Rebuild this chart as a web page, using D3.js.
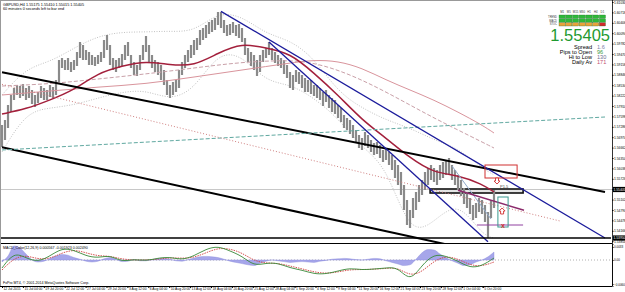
<!DOCTYPE html>
<html>
<head>
<meta charset="utf-8">
<script src="https://cdn.jsdelivr.net/npm/d3@7"></script>
<style>
body { margin: 0; background: #fff; }
svg { display: block; font-family: "Liberation Sans", Arial, sans-serif; }
</style>
</head>
<body>
<svg id="chart" width="625" height="292"></svg>
<script>
// ---- price bars (H4, sampled every bar slot) ----
const barHigh = [1.5734,1.5749,1.5794,1.5824,1.5845,1.5854,1.5851,1.5857,1.5845,1.5851,1.5839,1.5824,1.5833,1.5851,1.5845,1.5839,1.5854,1.5848,1.5869,1.5929,
  1.5935,1.5929,1.5935,1.5923,1.5929,1.5953,1.5983,1.5974,1.5959,1.5953,1.5944,1.5938,1.5944,1.5953,1.5989,1.6004,1.5974,1.5935,1.5929,1.5935,
  1.5947,1.5974,1.5983,1.5944,1.5923,1.5914,1.5944,1.5974,1.6001,1.5974,1.5944,1.5929,1.5923,1.5914,1.5899,1.5869,1.5854,1.5863,1.5869,1.5899,
  1.5923,1.5944,1.5959,1.5974,1.5989,1.5995,1.6019,1.6025,1.6034,1.6043,1.6049,1.6055,1.6073,1.6073,1.6049,1.6034,1.6037,1.6043,1.6034,1.6037,
  1.6025,1.5995,1.5965,1.5953,1.5944,1.5929,1.5944,1.5959,1.5965,1.5983,1.5965,1.5953,1.5944,1.5935,1.5929,1.5914,1.5893,1.5884,1.5899,1.5893,
  1.5884,1.5875,1.5869,1.5869,1.5854,1.5854,1.5845,1.5833,1.5839,1.5824,1.5815,1.5809,1.5794,1.5785,1.5764,1.5755,1.5749,1.5734,1.5719,1.5704,
  1.5695,1.5713,1.5704,1.5689,1.5680,1.5683,1.5674,1.5659,1.5665,1.5653,1.5644,1.5629,1.5614,1.5593,1.5554,1.5509,1.5479,1.5515,1.5533,1.5554,
  1.5569,1.5593,1.5605,1.5614,1.5605,1.5599,1.5614,1.5623,1.5629,1.5635,1.5614,1.5599,1.5584,1.5569,1.5545,1.5533,1.5515,1.5494,1.5500,1.5515,
  1.5509,1.5494,1.5473,1.5509,1.5539];
const barLow = [1.5668,1.5689,1.5725,1.5773,1.5809,1.5824,1.5815,1.5821,1.5809,1.5815,1.5797,1.5788,1.5800,1.5815,1.5809,1.5809,1.5818,1.5815,1.5824,1.5863,
  1.5905,1.5899,1.5899,1.5893,1.5899,1.5911,1.5935,1.5929,1.5929,1.5914,1.5914,1.5911,1.5917,1.5923,1.5935,1.5959,1.5914,1.5899,1.5893,1.5905,
  1.5911,1.5929,1.5941,1.5905,1.5884,1.5881,1.5899,1.5929,1.5953,1.5923,1.5905,1.5893,1.5884,1.5869,1.5854,1.5824,1.5815,1.5824,1.5833,1.5845,
  1.5884,1.5905,1.5923,1.5935,1.5944,1.5959,1.5974,1.5989,1.5995,1.6007,1.6013,1.6019,1.6034,1.6025,1.6010,1.6001,1.6004,1.6010,1.6001,1.5995,
  1.5983,1.5944,1.5923,1.5911,1.5899,1.5881,1.5893,1.5923,1.5935,1.5944,1.5929,1.5920,1.5911,1.5905,1.5887,1.5875,1.5845,1.5839,1.5863,1.5857,
  1.5845,1.5833,1.5833,1.5827,1.5821,1.5815,1.5809,1.5791,1.5803,1.5785,1.5773,1.5767,1.5755,1.5743,1.5725,1.5719,1.5707,1.5695,1.5683,1.5665,
  1.5659,1.5671,1.5665,1.5653,1.5644,1.5647,1.5635,1.5623,1.5629,1.5614,1.5599,1.5575,1.5554,1.5524,1.5479,1.5434,1.5425,1.5455,1.5479,1.5503,
  1.5524,1.5539,1.5554,1.5569,1.5563,1.5554,1.5569,1.5575,1.5584,1.5587,1.5569,1.5554,1.5539,1.5521,1.5497,1.5485,1.5467,1.5449,1.5455,1.5473,
  1.5467,1.5443,1.5395,1.5455,1.5485];

// ---- indicators, sampled every 8 bars ----
const maIdx = [0,16,32,48,64,80,96,104,112,120,128,136,144,152,160,164];
const maFastIdx = [0,8,16,24,32,40,48,56,64,72,80,88,96,104,112,120,128,136,144,152,160,164];
const maFast = [1.5767,1.5782,1.5809,1.5839,1.5890,1.5911,1.5926,1.5914,1.5911,1.5950,1.5980,1.5965,1.5950,1.5890,1.5824,1.5749,1.5695,1.5635,1.5590,1.5584,1.5557,1.5533];
const maSlow = [1.5824,1.5836,1.5848,1.5857,1.5878,1.5899,1.5920,1.5929,1.5926,1.5905,1.5869,1.5839,1.5809,1.5773,1.5734,1.5710];
const maMid  = [1.5851,1.5857,1.5872,1.5887,1.5905,1.5923,1.5929,1.5920,1.5899,1.5869,1.5833,1.5794,1.5755,1.5719,1.5683,1.5665];
const bandUpper = [1.5824,1.5905,1.5923,1.5965,1.6001,1.6013,1.6013,1.6016,1.6013,1.6073,1.6061,1.6007,1.5989,1.5935,1.5833,1.5785,1.5749,1.5725,1.5689,1.5665,1.5605,1.5584];
const bandLower = [1.5653,1.5773,1.5785,1.5794,1.5815,1.5833,1.5839,1.5809,1.5839,1.5953,1.5944,1.5863,1.5857,1.5815,1.5755,1.5665,1.5614,1.5401,1.5443,1.5509,1.5404,1.5395];

// ---- MACD subwindow ----
const macdIdx = d3.range(0, 165, 4);
const macdMain = [-0.0020,0.0020,0.0005,-0.0005,0.0010,0.0030,0.0025,0.0010,0.0005,0.00125,-0.0005,0.00025,-0.00025,0.0005,0.00075,0,0.0010,0.00275,0.0035,0.00225,0.0010,
  -0.0015,-0.00075,-0.00075,-0.0020,-0.0025,-0.0035,-0.0035,-0.00275,-0.0020,-0.0025,-0.00225,-0.0020,-0.00175,-0.0055,-0.00125,0.0015,0.0010,-0.00025,-0.0020,-0.0015,0.0005];
const macdSignal = [-0.0025,0.0005,0.0012,0.0002,0.0003,0.0018,0.0026,0.0018,0.0010,0.0010,0.0002,0,0,0.0002,0.0006,0.0004,0.0006,0.0018,0.0030,0.0028,0.0018,
  -0.0002,-0.0008,-0.0008,-0.0015,-0.0022,-0.0030,-0.0034,-0.0030,-0.0024,-0.0024,-0.0023,-0.0021,-0.0019,-0.0040,-0.0030,-0.0002,0.0010,0.0003,-0.0013,-0.0016,-0.0005];
const histIdx = d3.range(0, 165, 2);
const macdHist = [-5,10,35,30,15,0,-5,-3,4,10,14,12,6,2,-3,-5,-3,3,6,2,-4,-3,1,-2,-2,1,3,4,2,-2,-3,1,5,8,9,8,6,2,-3,-6,-9,-12,-14,-8,-3,0,-2,-4,-6,-5,-4,-5,-6,-3,-1,2,3,4,3,1,0,2,4,3,-2,-6,-10,-14,-12,2,18,26,25,15,6,-2,-8,-14,-12,-5,0,8,20].map(v => v * 0.0001);

// ---- axis labels ----
const priceTicks = [1.61030,1.60718,1.60406,1.60094,1.59782,1.59470,1.59158,1.58846,1.58534,1.58222,1.57910,1.57598,1.57286,1.56974,1.56662,1.56350,1.56038,1.55726,1.55414,1.55102,1.54790,1.54478,1.54166,1.53854];
const macdTicks = [0.003251, 0, -0.006012];
const timeLabels = ["12 Jul 2015","15 Jul 04:00","19 Jul 20:00","22 Jul 12:00","27 Jul 04:00","29 Jul 20:00","3 Aug 12:00","6 Aug 04:00","10 Aug 20:00","13 Aug 12:00","18 Aug 04:00","20 Aug 20:00",
  "25 Aug 12:00","28 Aug 04:00","1 Sep 20:00","4 Sep 12:00","9 Sep 04:00","11 Sep 20:00","16 Sep 12:00","21 Sep 04:00","23 Sep 20:00","28 Sep 12:00","1 Oct 04:00","5 Oct 20:00"];

// ---- drawn objects (bar index, price) ----
const trendLines = [
  {a:[0,1.5892], b:[201,1.5533], color:"#000", w:2},
  {a:[0,1.5667], b:[201,1.5272], color:"#000", w:2},
  {a:[0,1.5659], b:[201,1.5758], color:"#5fa8a0", w:1, dash:"4,2"},
  {a:[0,1.5856], b:[186,1.5446], color:"#d08080", w:1, dash:"1,2"},
  {a:[73,1.6075], b:[201,1.5395], color:"#1c1c9c", w:1.3},
  {a:[89,1.5983], b:[162,1.5384], color:"#1c1c9c", w:1.3},
  {a:[150,1.5611], b:[163,1.5452], color:"#8fa8c8", w:1},
  {a:[152,1.5538], b:[174,1.5478], color:"#8b2a6b", w:1.5},
  {a:[158.3,1.5434], b:[173.7,1.5434], color:"#9040a0", w:1},
  {a:[-2,1.5395], b:[203,1.5395], color:"#000", w:1.5}
];
const bid = 1.55405;
const panelHeads = ["M1","M5","M15","M30","H1","H4","D1"];
const panelRows = ["TREND","MACD","STOC"];
const panelColors = [
  ["#2fb83a","#2fb83a","#2fb83a","#2fb83a","#2fb83a","#2fb83a","#2fb83a"],
  ["#2fb83a","#2fb83a","#2fb83a","#2fb83a","#2fb83a","#2fb83a","#2fb83a"],
  ["#e8a23a","#e8a23a","#e8a23a","#e8a23a","#e8a23a","#e8a23a","#d22a2a"]
];
const infoLabels = ["Spread","Pips to Open","Hi to Low","Daily Av"];
const infoValues = ["1.6","96","130","171"];
const infoColors = ["#8080a8","#3a9a3a","#707090","#c05070"];

// ---- layout ----
const svg = d3.select("#chart");
const axisX = 612, mainBottom = 243, subTop = 244, subBottom = 286;

const x = d3.scaleLinear().domain([0, 201]).range([2, 605]);
const y = d3.scaleLinear().domain([1.5380, 1.6109]).range([mainBottom, 0]);
const ym = d3.scaleLinear().domain([-0.0065, 0.0040]).range([subBottom, subTop]);
const xt = d3.scalePoint().domain(timeLabels).range([2, 482.7]);

svg.append("defs").append("clipPath").attr("id", "mainClip")
  .append("rect").attr("x", 0).attr("y", 0).attr("width", axisX).attr("height", mainBottom);
svg.select("defs").append("clipPath").attr("id", "subClip")
  .append("rect").attr("x", 0).attr("y", subTop).attr("width", axisX).attr("height", subBottom - subTop);

const main = svg.append("g").attr("clip-path", "url(#mainClip)");

// bid line
main.append("line").attr("x1", 0).attr("x2", axisX).attr("y1", y(bid)).attr("y2", y(bid))
  .attr("stroke", "#c8c8c8").attr("stroke-width", 1);

// zone rectangle
main.append("rect").attr("x", x(142.7)).attr("y", y(1.5542)).attr("width", x(173.7) - x(142.7)).attr("height", y(1.5530) - y(1.5542))
  .attr("fill", "#e4e4e4").attr("stroke", "#111").attr("stroke-width", 1.6);

// bollinger bands
const bandLine = d3.line().x((d, i) => x(maFastIdx[i])).y(d => y(d)).curve(d3.curveBasis);
[bandUpper, bandLower].forEach(b => {
  main.append("path").attr("d", bandLine(b)).attr("fill", "none")
    .attr("stroke", "#a8a8a8").attr("stroke-width", 0.7).attr("stroke-dasharray", "1,1.5");
});

// price bars
main.selectAll("line.bar").data(barHigh).enter().append("line").attr("class", "bar")
  .attr("x1", (d, i) => x(i)).attr("x2", (d, i) => x(i))
  .attr("y1", d => y(d)).attr("y2", (d, i) => y(barLow[i]))
  .attr("stroke", "#8a8a8a").attr("stroke-width", 2.2);

// moving averages
const maLine = idx => d3.line().x((d, i) => x(idx[i])).y(d => y(d)).curve(d3.curveBasis);
main.append("path").attr("d", maLine(maIdx)(maSlow)).attr("fill", "none").attr("stroke", "#d9949c").attr("stroke-width", 1);
main.append("path").attr("d", maLine(maIdx)(maMid)).attr("fill", "none").attr("stroke", "#c9a0a8").attr("stroke-width", 1).attr("stroke-dasharray", "4,2");
main.append("path").attr("d", maLine(maFastIdx)(maFast)).attr("fill", "none").attr("stroke", "#a3203c").attr("stroke-width", 1.5);

// trend lines
trendLines.forEach(t => {
  main.append("line")
    .attr("x1", x(t.a[0])).attr("y1", y(t.a[1]))
    .attr("x2", x(t.b[0])).attr("y2", y(t.b[1]))
    .attr("stroke", t.color).attr("stroke-width", t.w)
    .attr("stroke-dasharray", t.dash || null);
});

// red rectangle and markers
main.append("rect").attr("x", x(161)).attr("y", y(1.5614)).attr("width", x(171.7) - x(161)).attr("height", y(1.5575) - y(1.5614))
  .attr("fill", "none").attr("stroke", "#d03030").attr("stroke-width", 1);
main.append("rect").attr("x", x(165.3)).attr("y", y(1.5518)).attr("width", x(168.7) - x(165.3)).attr("height", y(1.5428) - y(1.5518))
  .attr("fill", "none").attr("stroke", "#3a9a90").attr("stroke-width", 1);
const arrow = (cx, cy, dir) => {
  const s = dir;
  return `M${cx - 1.5},${cy - 3 * s} L${cx + 1.5},${cy - 3 * s} L${cx + 1.5},${cy} L${cx + 3},${cy} L${cx},${cy + 3 * s} L${cx - 3},${cy} L${cx - 1.5},${cy} Z`;
};
main.append("path").attr("d", arrow(x(165), y(1.5566), 1)).attr("fill", "#fff").attr("stroke", "#d03030").attr("stroke-width", 0.9);
main.append("path").attr("d", arrow(x(166.7), y(1.5476), -1)).attr("fill", "#fff").attr("stroke", "#d03030").attr("stroke-width", 0.9);
main.append("text").attr("x", x(167)).attr("y", y(1.5434) + 2.5).attr("text-anchor", "middle")
  .attr("font-size", 7).attr("font-weight", "bold").attr("fill", "#d03030").text("x");
main.append("text").attr("x", x(166)).attr("y", y(1.5545)).attr("font-size", 4).attr("fill", "#444").text("P1.5");

// ---- MACD subwindow ----
const sub = svg.append("g").attr("clip-path", "url(#subClip)");
sub.append("line").attr("x1", 0).attr("x2", axisX).attr("y1", ym(0)).attr("y2", ym(0))
  .attr("stroke", "#b0b0b0").attr("stroke-dasharray", "1,2");
sub.append("path").datum(macdHist)
  .attr("d", d3.area().x((d, i) => x(histIdx[i])).y0(ym(0)).y1(d => ym(d)).curve(d3.curveMonotoneX))
  .attr("fill", "#a6a6ea").attr("stroke", "#8a8ad8").attr("stroke-width", 0.4);
sub.append("path").attr("d", d3.line().x((d, i) => x(macdIdx[i])).y(d => ym(d)).curve(d3.curveBasis)(macdSignal))
  .attr("fill", "none").attr("stroke", "#d04040").attr("stroke-width", 0.9).attr("stroke-dasharray", "1.5,1");
sub.append("path").attr("d", d3.line().x((d, i) => x(macdIdx[i])).y(d => ym(d)).curve(d3.curveBasis)(macdMain))
  .attr("fill", "none").attr("stroke", "#3a8a3a").attr("stroke-width", 0.9);

// ---- frame and axes ----
svg.append("line").attr("x1", 0).attr("x2", 625).attr("y1", 0.5).attr("y2", 0.5).attr("stroke", "#999");
svg.append("line").attr("x1", 0).attr("x2", axisX).attr("y1", mainBottom + 0.5).attr("y2", mainBottom + 0.5).attr("stroke", "#000").attr("stroke-width", 1);
svg.append("line").attr("x1", 0).attr("x2", axisX).attr("y1", subBottom + 0.5).attr("y2", subBottom + 0.5).attr("stroke", "#000");
svg.append("line").attr("x1", 0.5).attr("x2", 0.5).attr("y1", 0).attr("y2", subBottom).attr("stroke", "#999");

const yAxis = svg.append("g").attr("transform", `translate(${axisX},0)`)
  .call(d3.axisRight(y).tickValues(priceTicks).tickSize(1.5).tickPadding(0.5).tickFormat(d3.format(".5f")));
const mAxis = svg.append("g").attr("transform", `translate(${axisX},0)`)
  .call(d3.axisRight(ym).tickValues(macdTicks).tickSize(1.5).tickPadding(0.5).tickFormat(d => d === 0 ? "0.00" : d3.format(".4f")(d)));
const tAxis = svg.append("g").attr("transform", `translate(0,${subBottom})`)
  .call(d3.axisBottom(xt).tickSize(2).tickPadding(0));
[yAxis, mAxis, tAxis].forEach(g => {
  g.select(".domain").attr("stroke", "#000").attr("stroke-width", 0.8);
  g.selectAll("text").attr("font-size", 3.3).attr("fill", "#000").attr("font-family", "Liberation Sans, Arial, sans-serif");
  g.selectAll(".tick line").attr("stroke", "#000");
});
mAxis.selectAll("text").attr("font-size", 3);
yAxis.select(".domain").attr("d", `M0.5,0V${subBottom}`);
tAxis.selectAll("text").attr("text-anchor", "start").attr("dx", 1).attr("dy", "0.6em");

// bid label and horizontal line label
[[bid, "1.55405"], [1.5395, "1.53950"]].forEach(([v, t]) => {
  svg.append("rect").attr("x", axisX + 1).attr("y", y(v) - 2.6).attr("width", 12).attr("height", 5.2).attr("fill", "#000");
  svg.append("text").attr("x", axisX + 1.5).attr("y", y(v) + 1.2).attr("font-size", 3.3).attr("fill", "#fff").text(t);
});

// ---- texts ----
svg.append("text").attr("x", 3).attr("y", 5.5).attr("font-size", 3.8).attr("fill", "#000").text("GBPUSD,H4  1.55175 1.55410 1.55015 1.55405");
svg.append("text").attr("x", 3).attr("y", 10).attr("font-size", 3.8).attr("fill", "#000").text("60 minutes 0 seconds left to bar end");
svg.append("text").attr("x", 3).attr("y", 248.5).attr("font-size", 3.6).attr("fill", "#000").text("MACD_Color(12,26,9) 0.000567 -0.001923 0.002490");
svg.append("text").attr("x", 3).attr("y", 283.5).attr("font-size", 3.6).attr("fill", "#000").text("FxPro MT4, \u00a9 2001-2014 MetaQuotes Software Corp.");

// info panel
const panel = svg.append("g");
const colX = d3.scaleBand().domain(panelHeads).range([559, 605.5]).paddingInner(0.08);
const rowY = d3.scaleBand().domain(panelRows).range([15, 26]).paddingInner(0.15);
panel.selectAll("text.head").data(panelHeads).enter().append("text")
  .attr("x", d => colX(d) + colX.bandwidth() / 2).attr("y", 13).attr("text-anchor", "middle")
  .attr("font-size", 2.8).attr("fill", "#333").text(d => d);
panel.selectAll("text.row").data(panelRows).enter().append("text")
  .attr("x", 557).attr("y", d => rowY(d) + rowY.bandwidth() - 0.6).attr("text-anchor", "end")
  .attr("font-size", 2.6).attr("fill", "#333").text(d => d);
panelRows.forEach((r, ri) => {
  panel.selectAll(null).data(panelHeads).enter().append("rect")
    .attr("x", d => colX(d)).attr("y", rowY(r)).attr("width", colX.bandwidth()).attr("height", rowY.bandwidth())
    .attr("fill", (d, ci) => panelColors[ri][ci]).attr("stroke", "#1b6b22").attr("stroke-width", 0.3);
});
panel.append("text").attr("x", 610).attr("y", 41).attr("text-anchor", "end")
  .attr("font-size", 16.5).attr("fill", "#1f9a30").text("1.55405");
infoLabels.forEach((l, i) => {
  panel.append("text").attr("x", 592).attr("y", 48.5 + i * 5.3).attr("text-anchor", "end")
    .attr("font-size", 5.6).attr("fill", "#000").text(l);
  panel.append("text").attr("x", 597).attr("y", 48.5 + i * 5.3)
    .attr("font-size", 5.6).attr("fill", infoColors[i]).text(infoValues[i]);
});
</script>
</body>
</html>
